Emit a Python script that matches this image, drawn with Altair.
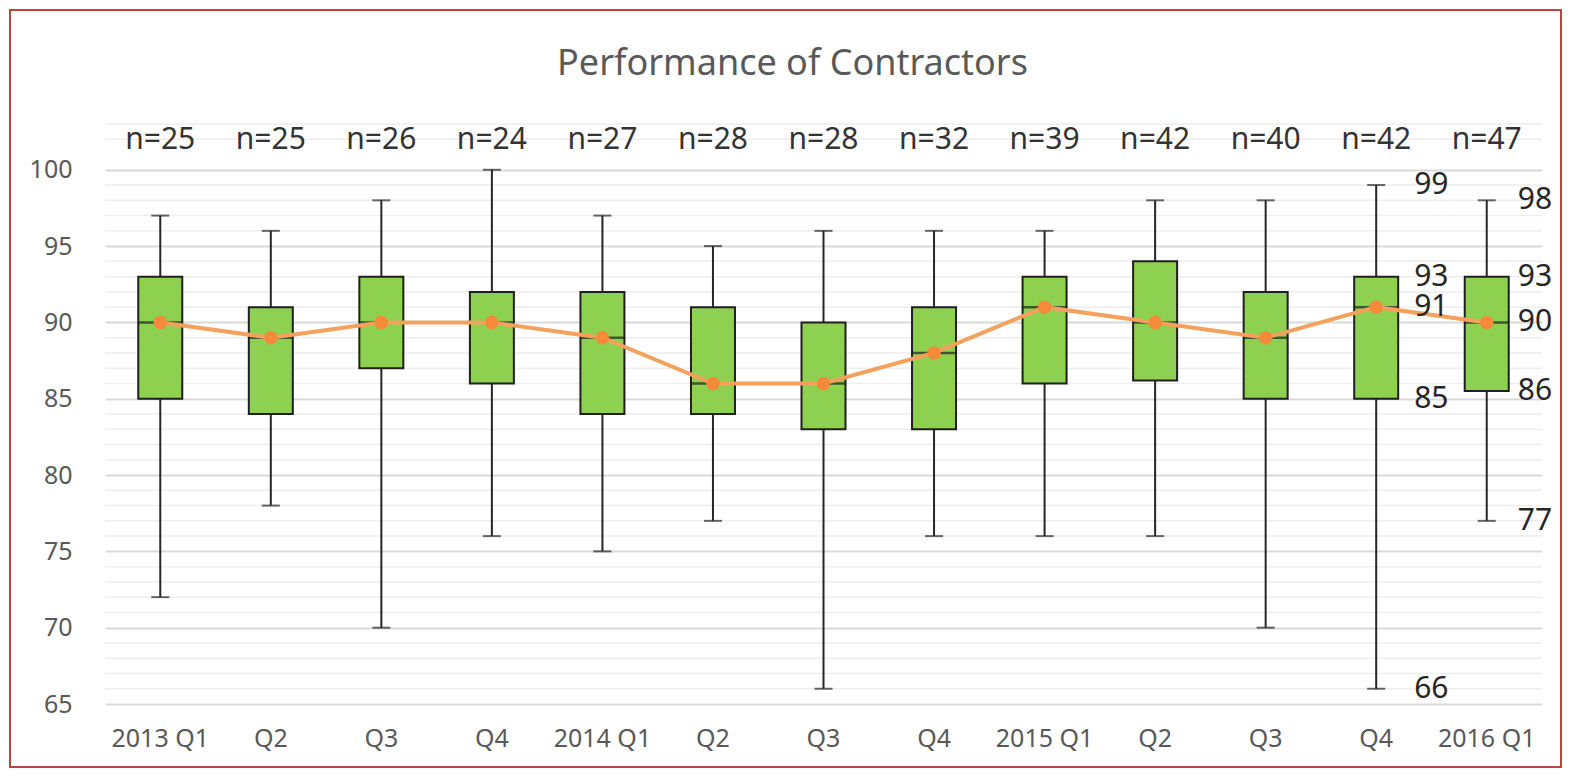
import altair as alt
import pandas as pd

# ---- data ----
quarters = ["2013 Q1", "Q2", "Q3", "Q4", "2014 Q1", "Q2", "Q3", "Q4",
            "2015 Q1", "Q2", "Q3", "Q4", "2016 Q1"]
n_counts = [25, 25, 26, 24, 27, 28, 28, 32, 39, 42, 40, 42, 47]
whisker_low = [72, 78, 70, 76, 75, 77, 66, 76, 76, 76, 70, 66, 77]
box_low = [85, 84, 87, 86, 84, 84, 83, 83, 86, 86.2, 85, 85, 85.5]
medians = [90, 89, 90, 90, 89, 86, 86, 88, 91, 90, 89, 91, 90]
box_high = [93, 91, 93, 92, 92, 91, 90, 91, 93, 94, 92, 93, 93]
whisker_high = [97, 96, 98, 100, 97, 95, 96, 96, 96, 98, 98, 99, 98]
major_ticks = [65, 70, 75, 80, 85, 90, 95, 100]
minor_lines = [66, 67, 68, 69, 71, 72, 73, 74, 76, 77, 78, 79, 81, 82, 83, 84,
               86, 87, 88, 89, 91, 92, 93, 94, 96, 97, 98, 99, 102, 103]
labelled_quarters = [11, 12]   # boxes that carry value labels

W, H = 1437, 580
FONT = "Noto Sans"

df = pd.DataFrame({
    "idx": list(range(len(quarters))),
    "quarter": quarters,
    "n": n_counts,
    "lo": whisker_low,
    "q1": box_low,
    "med": medians,
    "q3": box_high,
    "hi": whisker_high,
})
df["nlabel"] = ["n=" + str(v) for v in n_counts]

rows = []
for i in labelled_quarters:
    for arr in (whisker_high, box_high, medians, box_low, whisker_low):
        rows.append({"idx": i, "v": arr[i], "txt": str(int(round(arr[i] + 1e-9)))})
labels_df = pd.DataFrame(rows)

minor_df = pd.DataFrame({"v": minor_lines})

label_expr = "[" + ",".join("'" + q + "'" for q in quarters) + "][datum.value]"

xscale = alt.Scale(domain=list(range(len(quarters))), paddingInner=0, paddingOuter=0)
xaxis = alt.Axis(labelExpr=label_expr, title=None, domain=False, ticks=False,
                 labelAngle=0, labelFontSize=25, labelColor="#595959",
                 labelFont=FONT, labelPadding=22, grid=False)
yscale = alt.Scale(domain=[65, 103], nice=False, zero=False)
yaxis = alt.Axis(values=major_ticks, title=None, domain=False, ticks=False,
                 grid=True, gridColor="#d9d9d9", gridWidth=2,
                 labelFontSize=25, labelColor="#595959", labelFont=FONT,
                 labelPadding=33)


def X():
    return alt.X("idx:O", scale=xscale, axis=xaxis, title=None)


def Y(field):
    return alt.Y(field, scale=yscale, axis=yaxis, title=None)


base = alt.Chart(df)

minor = alt.Chart(minor_df).mark_rule(color="#ededed", strokeWidth=1.5).encode(
    y=Y("v:Q"), x=alt.value(0), x2=alt.value(W))

whisk = base.mark_rule(color="#262626", strokeWidth=2).encode(
    x=X(), y=Y("lo:Q"), y2="hi:Q")
cap_lo = base.mark_tick(size=18, thickness=2, color="#262626", orient="horizontal").encode(
    x=X(), y=Y("lo:Q"))
cap_hi = base.mark_tick(size=18, thickness=2, color="#262626", orient="horizontal").encode(
    x=X(), y=Y("hi:Q"))
box = base.mark_bar(size=44, fill="#8ED04F", stroke="#1f1f1f", strokeWidth=2).encode(
    x=X(), y=Y("q1:Q"), y2="q3:Q")
med_tick = base.mark_tick(size=44, thickness=2.5, color="#1f1f1f", orient="horizontal").encode(
    x=X(), y=Y("med:Q"))
line = base.mark_line(color="#F4A15D", strokeWidth=4).encode(x=X(), y=Y("med:Q"))
dots = base.mark_circle(size=180, color="#F7893B", opacity=1).encode(x=X(), y=Y("med:Q"))

nlab = base.mark_text(fontSize=30, font=FONT, color="#333333", baseline="middle").encode(
    x=X(), y=alt.value(16), text="nlabel:N")

lab_a = alt.Chart(labels_df).transform_filter(alt.datum.idx == labelled_quarters[0]).mark_text(
    align="left", baseline="middle", dx=38, fontSize=30, font=FONT, color="#262626").encode(
    x=X(), y=Y("v:Q"), text="txt:N")
lab_b = alt.Chart(labels_df).transform_filter(alt.datum.idx == labelled_quarters[1]).mark_text(
    align="left", baseline="middle", dx=31, fontSize=30, font=FONT, color="#262626").encode(
    x=X(), y=Y("v:Q"), text="txt:N")

frame = alt.Chart(pd.DataFrame({"a": [0]})).mark_rect(
    filled=False, stroke="#b5473f", strokeWidth=2).encode(
    x=alt.value(-95), x2=alt.value(W + 19), y=alt.value(-114), y2=alt.value(H + 63))

chart = alt.layer(
    minor, whisk, cap_lo, cap_hi, box, med_tick, line, dots, nlab, lab_a, lab_b, frame
).properties(
    width=W, height=H,
    title=alt.TitleParams("Performance of Contractors", fontSize=36, font=FONT,
                          color="#595959", fontWeight="normal", anchor="middle",
                          baseline="middle", offset=-91, dx=-31),
    autosize=alt.AutoSizeParams(type="none"),
    padding={"left": 97, "top": 116, "right": 21, "bottom": 65},
).configure(font=FONT, background="white").configure_view(strokeWidth=0)

chart.save("out.html", embed_options={"renderer": "svg", "actions": False})
